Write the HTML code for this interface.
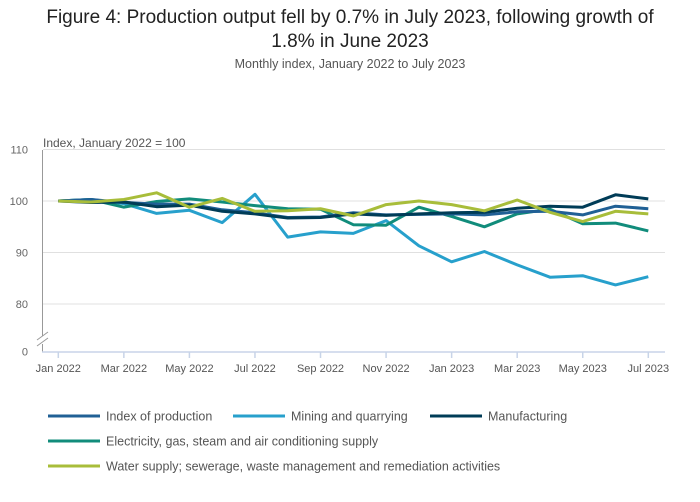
<!DOCTYPE html>
<html><head><meta charset="utf-8"><style>
body{margin:0;background:#fff;font-family:"Liberation Sans",sans-serif;}
#wrap{position:relative;width:700px;height:502px;overflow:hidden;}
.t{position:absolute;left:0;width:700px;text-align:center;color:#222;}
</style></head><body>
<div id="wrap">
<div class="t" style="top:6px;font-size:19px;line-height:24px;">Figure 4: Production output fell by 0.7% in July 2023, following growth of<br>1.8% in June 2023</div>
<div class="t" style="top:57px;font-size:12.5px;color:#555;">Monthly index, January 2022 to July 2023</div>
<svg id="svg" width="700" height="502" style="position:absolute;left:0;top:0"></svg>
</div>
<script>
const months=["Jan 2022","Feb 2022","Mar 2022","Apr 2022","May 2022","Jun 2022","Jul 2022","Aug 2022","Sep 2022","Oct 2022","Nov 2022","Dec 2022","Jan 2023","Feb 2023","Mar 2023","Apr 2023","May 2023","Jun 2023","Jul 2023"];
const yTicks=[0,80,90,100,110];
const seriesNames=["Index of production","Mining and quarrying","Manufacturing","Electricity, gas, steam and air conditioning supply","Water supply; sewerage, waste management and remediation activities"];
const indexProd=[100,100.3,99.7,99.4,99.4,98.3,97.7,96.8,96.9,97.7,97.3,97.4,97.5,97.3,97.9,98.0,97.3,99.0,98.5];
const mining=[100,100.3,99.5,97.6,98.2,95.8,101.3,93.0,94.0,93.7,96.2,91.3,88.2,90.2,87.6,85.2,85.5,83.7,85.3];
const manuf=[100,99.7,99.8,98.9,99.2,98.0,97.5,96.7,96.8,97.5,97.2,97.5,97.7,97.8,98.6,99.0,98.8,101.2,100.4];
const elec=[100,100.3,98.8,99.9,100.4,99.8,99.1,98.5,98.4,95.4,95.3,98.8,97.0,95.0,97.5,98.4,95.6,95.7,94.2];
const water=[100,99.8,100.3,101.6,98.8,100.5,98.0,98.1,98.5,97.1,99.3,100.0,99.3,98.1,100.2,97.8,96.0,98.0,97.5];
const allSeries=[indexProd,mining,manuf,elec,water];
const colors=["#206095","#27a0cc","#003c57","#118c7b","#a8bd3a"];
const NS="http://www.w3.org/2000/svg";
const svg=document.getElementById('svg');
const x0=58.3,x1=648.3;
function xs(i){return x0+(x1-x0)*i/(months.length-1);}
function ys(v){return v===0?351.7:201-(v-100)*5.15;}
function mk(t,a){const e=document.createElementNS(NS,t);for(const k in a)e.setAttribute(k,a[k]);svg.appendChild(e);return e;}
// gridlines
yTicks.forEach(v=>{
 if(v>0){const g=mk('line',{x1:43,x2:665,y1:ys(v),y2:ys(v),stroke:'#e0e0e0','stroke-width':1});
 
 }
 const t=mk('text',{x:28,y:ys(v)+4,'font-size':11,fill:'#666','text-anchor':'end'});t.textContent=v;
 
 
});
let ya=mk('line',{x1:42.5,x2:42.5,y1:150,y2:336,stroke:'#999','stroke-width':1});


let ya2=mk('line',{x1:42.5,x2:42.5,y1:344,y2:352,stroke:'#999','stroke-width':1});


let br=mk('path',{d:'M37 340 L48 332 M37 346 L48 338',stroke:'#999','stroke-width':1,fill:'none'});


let xa=mk('line',{x1:42,x2:665,y1:352,y2:352,stroke:'#c8d4e8','stroke-width':1.5});


let yt=mk('text',{x:43,y:147,'font-size':12,fill:'#555'});yt.textContent='Index, January 2022 = 100';


months.forEach((m,i)=>{
 if(i%2)return;
 const tk=mk('line',{x1:xs(i),x2:xs(i),y1:352,y2:358,stroke:'#c8d4e8','stroke-width':1.5});
 
 
 const t=mk('text',{x:xs(i),y:372,'font-size':11,fill:'#555','text-anchor':'middle'});t.textContent=m.replace(/^(\w{3})\w* /,'$1 ');
 
 
});
// draw order: water last? reference shows green-yellow on top
[1,3,0,2,4].forEach(s=>{
 const d=allSeries[s].map((v,i)=>(i?'L':'M')+xs(i).toFixed(1)+' '+ys(v).toFixed(1)).join(' ');
 const p=mk('path',{d:d,stroke:colors[s],'stroke-width':3,fill:'none','stroke-linejoin':'round'});
 
 
});
const lpos=[[48,416],[233,416],[430,416],[48,441],[48,466]];
seriesNames.forEach((n,s)=>{
 const [lx,ly]=lpos[s];
 const l=mk('line',{x1:lx,x2:lx+52,y1:ly,y2:ly,stroke:colors[s],'stroke-width':3});
 
 
 const t=mk('text',{x:lx+58,y:ly+4.5,'font-size':12.5,fill:'#555'});t.textContent=n;
 
 
});
</script>
</body></html>
